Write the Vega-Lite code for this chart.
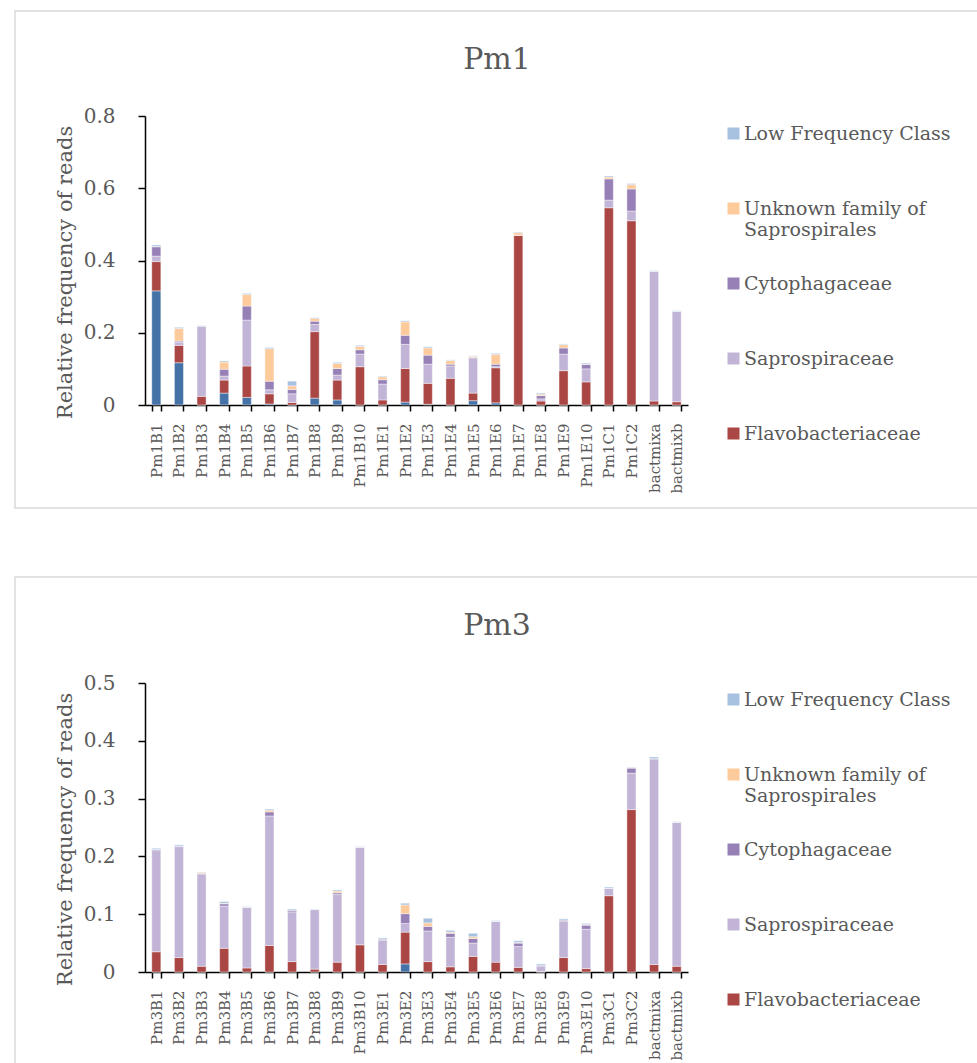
{
  "$schema": "https://vega.github.io/schema/vega-lite/v6.json",
  "padding": {"left": 7, "top": 10, "right": 0, "bottom": 0},
  "config": {
    "font": "DejaVu Serif",
    "view": {"stroke": "#d9d9d9", "strokeWidth": 1.5},
    "axis": {
      "domainColor": "#000000",
      "domainWidth": 1.5,
      "tickColor": "#000000",
      "tickWidth": 1.5,
      "labelColor": "#595959",
      "titleColor": "#595959",
      "titleFontWeight": "normal",
      "labelFont": "DejaVu Serif",
      "titleFont": "DejaVu Serif",
      "grid": false
    },
    "title": {"font": "DejaVu Serif", "fontSize": 30, "fontWeight": "normal", "color": "#595959"}
  },
  "datasets": {
    "pm1": [
      {"sample": "Pm1B1", "Other Bacteroidetes": 0.316, "Flavobacteriaceae": 0.081, "Saprospiraceae": 0.015, "Cytophagaceae": 0.026, "Unknown family of Saprospirales": 0.001, "Low Frequency Class": 0.004},
      {"sample": "Pm1B2", "Other Bacteroidetes": 0.117, "Flavobacteriaceae": 0.048, "Saprospiraceae": 0.009, "Cytophagaceae": 0.003, "Unknown family of Saprospirales": 0.035, "Low Frequency Class": 0.003},
      {"sample": "Pm1B3", "Other Bacteroidetes": 0, "Flavobacteriaceae": 0.024, "Saprospiraceae": 0.195, "Cytophagaceae": 0, "Unknown family of Saprospirales": 0, "Low Frequency Class": 0.001},
      {"sample": "Pm1B4", "Other Bacteroidetes": 0.033, "Flavobacteriaceae": 0.036, "Saprospiraceae": 0.011, "Cytophagaceae": 0.019, "Unknown family of Saprospirales": 0.020, "Low Frequency Class": 0.003},
      {"sample": "Pm1B5", "Other Bacteroidetes": 0.021, "Flavobacteriaceae": 0.087, "Saprospiraceae": 0.127, "Cytophagaceae": 0.039, "Unknown family of Saprospirales": 0.032, "Low Frequency Class": 0.003},
      {"sample": "Pm1B6", "Other Bacteroidetes": 0.003, "Flavobacteriaceae": 0.028, "Saprospiraceae": 0.011, "Cytophagaceae": 0.024, "Unknown family of Saprospirales": 0.090, "Low Frequency Class": 0.003},
      {"sample": "Pm1B7", "Other Bacteroidetes": 0, "Flavobacteriaceae": 0.007, "Saprospiraceae": 0.024, "Cytophagaceae": 0.012, "Unknown family of Saprospirales": 0.010, "Low Frequency Class": 0.013},
      {"sample": "Pm1B8", "Other Bacteroidetes": 0.019, "Flavobacteriaceae": 0.184, "Saprospiraceae": 0.020, "Cytophagaceae": 0.009, "Unknown family of Saprospirales": 0.008, "Low Frequency Class": 0.002},
      {"sample": "Pm1B9", "Other Bacteroidetes": 0.014, "Flavobacteriaceae": 0.055, "Saprospiraceae": 0.014, "Cytophagaceae": 0.018, "Unknown family of Saprospirales": 0.014, "Low Frequency Class": 0.003},
      {"sample": "Pm1B10", "Other Bacteroidetes": 0, "Flavobacteriaceae": 0.106, "Saprospiraceae": 0.035, "Cytophagaceae": 0.012, "Unknown family of Saprospirales": 0.009, "Low Frequency Class": 0.003},
      {"sample": "Pm1E1", "Other Bacteroidetes": 0, "Flavobacteriaceae": 0.014, "Saprospiraceae": 0.044, "Cytophagaceae": 0.012, "Unknown family of Saprospirales": 0.008, "Low Frequency Class": 0.002},
      {"sample": "Pm1E2", "Other Bacteroidetes": 0.008, "Flavobacteriaceae": 0.093, "Saprospiraceae": 0.067, "Cytophagaceae": 0.025, "Unknown family of Saprospirales": 0.037, "Low Frequency Class": 0.003},
      {"sample": "Pm1E3", "Other Bacteroidetes": 0.002, "Flavobacteriaceae": 0.058, "Saprospiraceae": 0.053, "Cytophagaceae": 0.025, "Unknown family of Saprospirales": 0.020, "Low Frequency Class": 0.003},
      {"sample": "Pm1E4", "Other Bacteroidetes": 0, "Flavobacteriaceae": 0.074, "Saprospiraceae": 0.034, "Cytophagaceae": 0.005, "Unknown family of Saprospirales": 0.010, "Low Frequency Class": 0.002},
      {"sample": "Pm1E5", "Other Bacteroidetes": 0.012, "Flavobacteriaceae": 0.021, "Saprospiraceae": 0.098, "Cytophagaceae": 0, "Unknown family of Saprospirales": 0.003, "Low Frequency Class": 0.002},
      {"sample": "Pm1E6", "Other Bacteroidetes": 0.006, "Flavobacteriaceae": 0.097, "Saprospiraceae": 0.003, "Cytophagaceae": 0.007, "Unknown family of Saprospirales": 0.027, "Low Frequency Class": 0.003},
      {"sample": "Pm1E7", "Other Bacteroidetes": 0, "Flavobacteriaceae": 0.470, "Saprospiraceae": 0, "Cytophagaceae": 0, "Unknown family of Saprospirales": 0.007, "Low Frequency Class": 0.002},
      {"sample": "Pm1E8", "Other Bacteroidetes": 0, "Flavobacteriaceae": 0.011, "Saprospiraceae": 0.006, "Cytophagaceae": 0.009, "Unknown family of Saprospirales": 0.004, "Low Frequency Class": 0.003},
      {"sample": "Pm1E9", "Other Bacteroidetes": 0, "Flavobacteriaceae": 0.095, "Saprospiraceae": 0.046, "Cytophagaceae": 0.017, "Unknown family of Saprospirales": 0.009, "Low Frequency Class": 0.002},
      {"sample": "Pm1E10", "Other Bacteroidetes": 0, "Flavobacteriaceae": 0.064, "Saprospiraceae": 0.036, "Cytophagaceae": 0.012, "Unknown family of Saprospirales": 0.001, "Low Frequency Class": 0.003},
      {"sample": "Pm1C1", "Other Bacteroidetes": 0, "Flavobacteriaceae": 0.546, "Saprospiraceae": 0.021, "Cytophagaceae": 0.059, "Unknown family of Saprospirales": 0.005, "Low Frequency Class": 0.003},
      {"sample": "Pm1C2", "Other Bacteroidetes": 0, "Flavobacteriaceae": 0.510, "Saprospiraceae": 0.027, "Cytophagaceae": 0.061, "Unknown family of Saprospirales": 0.012, "Low Frequency Class": 0.003},
      {"sample": "bactmixa", "Other Bacteroidetes": 0, "Flavobacteriaceae": 0.011, "Saprospiraceae": 0.359, "Cytophagaceae": 0, "Unknown family of Saprospirales": 0, "Low Frequency Class": 0.002},
      {"sample": "bactmixb", "Other Bacteroidetes": 0, "Flavobacteriaceae": 0.009, "Saprospiraceae": 0.250, "Cytophagaceae": 0, "Unknown family of Saprospirales": 0, "Low Frequency Class": 0.002}
    ],
    "pm3": [
      {"sample": "Pm3B1", "Other Bacteroidetes": 0, "Flavobacteriaceae": 0.035, "Saprospiraceae": 0.175, "Cytophagaceae": 0.002, "Unknown family of Saprospirales": 0, "Low Frequency Class": 0.002},
      {"sample": "Pm3B2", "Other Bacteroidetes": 0, "Flavobacteriaceae": 0.025, "Saprospiraceae": 0.192, "Cytophagaceae": 0.001, "Unknown family of Saprospirales": 0, "Low Frequency Class": 0.002},
      {"sample": "Pm3B3", "Other Bacteroidetes": 0, "Flavobacteriaceae": 0.010, "Saprospiraceae": 0.160, "Cytophagaceae": 0, "Unknown family of Saprospirales": 0.002, "Low Frequency Class": 0.001},
      {"sample": "Pm3B4", "Other Bacteroidetes": 0, "Flavobacteriaceae": 0.041, "Saprospiraceae": 0.073, "Cytophagaceae": 0.004, "Unknown family of Saprospirales": 0.001, "Low Frequency Class": 0.003},
      {"sample": "Pm3B5", "Other Bacteroidetes": 0, "Flavobacteriaceae": 0.007, "Saprospiraceae": 0.105, "Cytophagaceae": 0, "Unknown family of Saprospirales": 0, "Low Frequency Class": 0.001},
      {"sample": "Pm3B6", "Other Bacteroidetes": 0, "Flavobacteriaceae": 0.046, "Saprospiraceae": 0.224, "Cytophagaceae": 0.007, "Unknown family of Saprospirales": 0.003, "Low Frequency Class": 0.002},
      {"sample": "Pm3B7", "Other Bacteroidetes": 0, "Flavobacteriaceae": 0.018, "Saprospiraceae": 0.086, "Cytophagaceae": 0.003, "Unknown family of Saprospirales": 0, "Low Frequency Class": 0.002},
      {"sample": "Pm3B8", "Other Bacteroidetes": 0, "Flavobacteriaceae": 0.005, "Saprospiraceae": 0.103, "Cytophagaceae": 0, "Unknown family of Saprospirales": 0, "Low Frequency Class": 0.001},
      {"sample": "Pm3B9", "Other Bacteroidetes": 0, "Flavobacteriaceae": 0.017, "Saprospiraceae": 0.117, "Cytophagaceae": 0.003, "Unknown family of Saprospirales": 0.003, "Low Frequency Class": 0.002},
      {"sample": "Pm3B10", "Other Bacteroidetes": 0, "Flavobacteriaceae": 0.047, "Saprospiraceae": 0.169, "Cytophagaceae": 0, "Unknown family of Saprospirales": 0, "Low Frequency Class": 0.001},
      {"sample": "Pm3E1", "Other Bacteroidetes": 0, "Flavobacteriaceae": 0.013, "Saprospiraceae": 0.042, "Cytophagaceae": 0.002, "Unknown family of Saprospirales": 0, "Low Frequency Class": 0.002},
      {"sample": "Pm3E2", "Other Bacteroidetes": 0.014, "Flavobacteriaceae": 0.055, "Saprospiraceae": 0.015, "Cytophagaceae": 0.017, "Unknown family of Saprospirales": 0.015, "Low Frequency Class": 0.003},
      {"sample": "Pm3E3", "Other Bacteroidetes": 0, "Flavobacteriaceae": 0.018, "Saprospiraceae": 0.053, "Cytophagaceae": 0.008, "Unknown family of Saprospirales": 0.006, "Low Frequency Class": 0.008},
      {"sample": "Pm3E4", "Other Bacteroidetes": 0, "Flavobacteriaceae": 0.009, "Saprospiraceae": 0.051, "Cytophagaceae": 0.007, "Unknown family of Saprospirales": 0.002, "Low Frequency Class": 0.003},
      {"sample": "Pm3E5", "Other Bacteroidetes": 0, "Flavobacteriaceae": 0.027, "Saprospiraceae": 0.023, "Cytophagaceae": 0.008, "Unknown family of Saprospirales": 0.003, "Low Frequency Class": 0.006},
      {"sample": "Pm3E6", "Other Bacteroidetes": 0, "Flavobacteriaceae": 0.017, "Saprospiraceae": 0.071, "Cytophagaceae": 0, "Unknown family of Saprospirales": 0, "Low Frequency Class": 0.001},
      {"sample": "Pm3E7", "Other Bacteroidetes": 0, "Flavobacteriaceae": 0.008, "Saprospiraceae": 0.036, "Cytophagaceae": 0.006, "Unknown family of Saprospirales": 0.001, "Low Frequency Class": 0.003},
      {"sample": "Pm3E8", "Other Bacteroidetes": 0, "Flavobacteriaceae": 0.001, "Saprospiraceae": 0.009, "Cytophagaceae": 0.002, "Unknown family of Saprospirales": 0, "Low Frequency Class": 0.002},
      {"sample": "Pm3E9", "Other Bacteroidetes": 0, "Flavobacteriaceae": 0.025, "Saprospiraceae": 0.063, "Cytophagaceae": 0.002, "Unknown family of Saprospirales": 0, "Low Frequency Class": 0.002},
      {"sample": "Pm3E10", "Other Bacteroidetes": 0, "Flavobacteriaceae": 0.006, "Saprospiraceae": 0.068, "Cytophagaceae": 0.007, "Unknown family of Saprospirales": 0.001, "Low Frequency Class": 0.002},
      {"sample": "Pm3C1", "Other Bacteroidetes": 0, "Flavobacteriaceae": 0.132, "Saprospiraceae": 0.013, "Cytophagaceae": 0, "Unknown family of Saprospirales": 0, "Low Frequency Class": 0.002},
      {"sample": "Pm3C2", "Other Bacteroidetes": 0, "Flavobacteriaceae": 0.281, "Saprospiraceae": 0.063, "Cytophagaceae": 0.009, "Unknown family of Saprospirales": 0, "Low Frequency Class": 0.001},
      {"sample": "bactmixa", "Other Bacteroidetes": 0, "Flavobacteriaceae": 0.013, "Saprospiraceae": 0.356, "Cytophagaceae": 0, "Unknown family of Saprospirales": 0, "Low Frequency Class": 0.003},
      {"sample": "bactmixb", "Other Bacteroidetes": 0, "Flavobacteriaceae": 0.010, "Saprospiraceae": 0.249, "Cytophagaceae": 0, "Unknown family of Saprospirales": 0, "Low Frequency Class": 0.001}
    ]
  },
  "spacing": 67,
  "resolve": {
    "scale": {"x": "independent", "y": "independent", "color": "independent"},
    "legend": {"color": "independent"}
  },
  "vconcat": [
    {
      "width": 972,
      "height": 497,
      "data": {"name": "pm1"},
      "transform": [
        {"fold": ["Other Bacteroidetes", "Flavobacteriaceae", "Saprospiraceae", "Cytophagaceae", "Unknown family of Saprospirales", "Low Frequency Class"], "as": ["family", "value"]},
        {"window": [{"op": "row_number", "as": "stackRank"}], "groupby": ["sample"]}
      ],
      "title": {"text": "Pm1", "anchor": "middle", "frame": "group", "offset": -88, "baseline": "alphabetic", "dx": -4},
      "mark": {"type": "bar", "stroke": "#ffffff", "strokeWidth": 0.6, "strokeOpacity": 0.7},
      "encoding": {
        "x": {
          "field": "sample", "type": "nominal", "sort": null,
          "scale": {"range": [130, 673], "paddingInner": 0.6, "paddingOuter": 0.3},
          "axis": {"title": null, "offset": -103, "labelAngle": -90, "labelFontSize": 15, "labelPadding": 12, "tickSize": 6, "tickBand": "extent"}
        },
        "y": {
          "field": "value", "type": "quantitative", "stack": "zero",
          "scale": {"domain": [0, 0.8], "range": [394, 105], "nice": false},
          "axis": {"title": "Relative frequency of reads", "values": [0, 0.2, 0.4, 0.6, 0.8], "format": "~g", "offset": -130, "tickSize": 7, "labelFontSize": 20, "labelPadding": 23, "titleFontSize": 21, "titleX": -80, "titleY": 261, "titleBaseline": "middle"}
        },
        "order": {"field": "stackRank", "type": "quantitative"},
        "color": {
          "field": "family", "type": "nominal",
          "scale": {
            "domain": ["Other Bacteroidetes", "Flavobacteriaceae", "Saprospiraceae", "Cytophagaceae", "Unknown family of Saprospirales", "Low Frequency Class"],
            "range": ["#4572a7", "#aa4643", "#c2b4d6", "#9680b6", "#fdca9c", "#a7c1e1"]
          },
          "legend": {
            "orient": "none", "legendX": 709, "legendY": 113, "title": null,
            "values": ["Low Frequency Class", "Unknown family of Saprospirales", "Cytophagaceae", "Saprospiraceae", "Flavobacteriaceae"],
            "symbolType": "square", "symbolSize": 144, "symbolStrokeWidth": 0,
            "labelFontSize": 19, "labelColor": "#595959", "labelFont": "DejaVu Serif", "labelOffset": 1, "labelLimit": 300,
            "gridAlign": "all", "rowPadding": 34,
            "labelExpr": "datum.label === 'Unknown family of Saprospirales' ? ['Unknown family of', 'Saprospirales'] : datum.label"
          }
        }
      }
    },
    {
      "width": 972,
      "height": 497,
      "data": {"name": "pm3"},
      "transform": [
        {"fold": ["Other Bacteroidetes", "Flavobacteriaceae", "Saprospiraceae", "Cytophagaceae", "Unknown family of Saprospirales", "Low Frequency Class"], "as": ["family", "value"]},
        {"window": [{"op": "row_number", "as": "stackRank"}], "groupby": ["sample"]}
      ],
      "title": {"text": "Pm3", "anchor": "middle", "frame": "group", "offset": -88, "baseline": "alphabetic", "dx": -4},
      "mark": {"type": "bar", "stroke": "#ffffff", "strokeWidth": 0.6, "strokeOpacity": 0.7},
      "encoding": {
        "x": {
          "field": "sample", "type": "nominal", "sort": null,
          "scale": {"range": [130, 673], "paddingInner": 0.6, "paddingOuter": 0.3},
          "axis": {"title": null, "offset": -102, "labelAngle": -90, "labelFontSize": 15, "labelPadding": 12, "tickSize": 6, "tickBand": "extent"}
        },
        "y": {
          "field": "value", "type": "quantitative", "stack": "zero",
          "scale": {"domain": [0, 0.5], "range": [395, 106], "nice": false},
          "axis": {"title": "Relative frequency of reads", "values": [0, 0.1, 0.2, 0.3, 0.4, 0.5], "format": "~g", "offset": -130, "tickSize": 7, "labelFontSize": 20, "labelPadding": 23, "titleFontSize": 21, "titleX": -80, "titleY": 262, "titleBaseline": "middle"}
        },
        "order": {"field": "stackRank", "type": "quantitative"},
        "color": {
          "field": "family", "type": "nominal",
          "scale": {
            "domain": ["Other Bacteroidetes", "Flavobacteriaceae", "Saprospiraceae", "Cytophagaceae", "Unknown family of Saprospirales", "Low Frequency Class"],
            "range": ["#4572a7", "#aa4643", "#c2b4d6", "#9680b6", "#fdca9c", "#a7c1e1"]
          },
          "legend": {
            "orient": "none", "legendX": 709, "legendY": 113, "title": null,
            "values": ["Low Frequency Class", "Unknown family of Saprospirales", "Cytophagaceae", "Saprospiraceae", "Flavobacteriaceae"],
            "symbolType": "square", "symbolSize": 144, "symbolStrokeWidth": 0,
            "labelFontSize": 19, "labelColor": "#595959", "labelFont": "DejaVu Serif", "labelOffset": 1, "labelLimit": 300,
            "gridAlign": "all", "rowPadding": 34,
            "labelExpr": "datum.label === 'Unknown family of Saprospirales' ? ['Unknown family of', 'Saprospirales'] : datum.label"
          }
        }
      }
    }
  ]
}
